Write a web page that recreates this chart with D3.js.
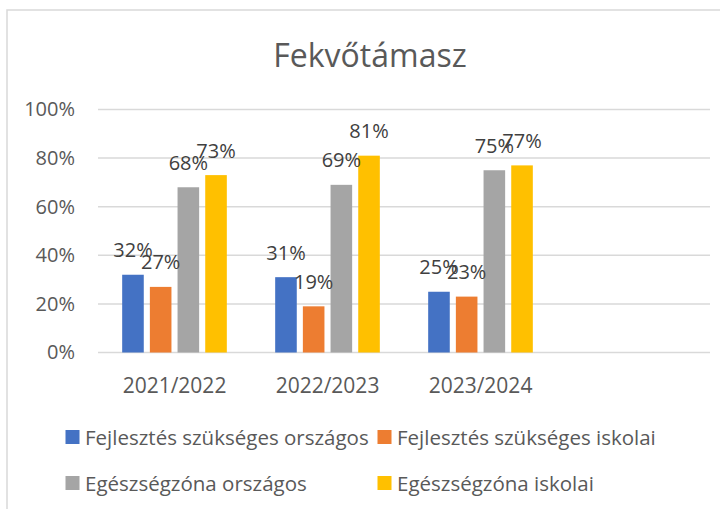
<!DOCTYPE html>
<html><head><meta charset="utf-8">
<script src="https://cdn.jsdelivr.net/npm/d3@7/dist/d3.min.js"></script>
<style>body{margin:0;background:#fff}svg{display:block;font-family:"Open Sans",sans-serif}</style>
</head><body><div id="chart"></div>
<script>
const title = "Fekvőtámasz";
const categories = ["2021/2022", "2022/2023", "2023/2024", ""];
const seriesNames = ["Fejlesztés szükséges országos", "Fejlesztés szükséges iskolai", "Egészségzóna országos", "Egészségzóna iskolai"];
const seriesColors = ["#4472C4", "#ED7D31", "#A5A5A5", "#FFC000"];
const fejlOrszagos = [32, 31, 25];
const fejlIskolai = [27, 19, 23];
const egOrszagos = [68, 69, 75];
const egIskolai = [73, 81, 77];
const yTicks = [0, 20, 40, 60, 80, 100];

const seriesValues = [fejlOrszagos, fejlIskolai, egOrszagos, egIskolai];
const W = 720, H = 509;
const svg = d3.select("#chart").append("svg").attr("width", W).attr("height", H);

// outer chart border
svg.append("rect").attr("x", 7).attr("y", 10).attr("width", 740).attr("height", 540)
  .attr("fill", "none").attr("stroke", "#d9d9d9").attr("stroke-width", 1.5);

svg.append("text").attr("x", 370).attr("y", 67).attr("text-anchor", "middle")
  .attr("font-size", 32).attr("fill", "#595959").text(title);

const plot = {left: 98, right: 710, top: 109.5, bottom: 352.5};
const x0 = d3.scaleBand().domain(categories.map((c, i) => i)).range([plot.left, plot.right])
  .paddingInner(0.316).paddingOuter(0.158);
const x1 = d3.scaleBand().domain(seriesNames.map((s, i) => i)).range([0, x0.bandwidth()])
  .paddingInner(0.22).paddingOuter(0);
const y = d3.scaleLinear().domain([0, 100]).range([plot.bottom, plot.top]);

// gridlines
svg.append("g").selectAll("line").data(yTicks).join("line")
  .attr("x1", plot.left).attr("x2", plot.right)
  .attr("y1", d => y(d)).attr("y2", d => y(d))
  .attr("stroke", "#d9d9d9").attr("stroke-width", 1.5);

// y axis labels
const yAxis = d3.axisLeft(y).tickValues(yTicks).tickFormat(d => d + "%").tickSize(0).tickPadding(0);
const gy = svg.append("g").attr("transform", `translate(75,0)`).call(yAxis);
gy.select(".domain").remove();
gy.selectAll("text").attr("font-size", 20).attr("fill", "#595959").attr("font-family", "Open Sans");

// x axis labels
const xAxis = d3.axisBottom(x0).tickFormat(i => categories[i]).tickSize(0).tickPadding(0);
const gx = svg.append("g").attr("transform", `translate(0,${plot.bottom})`).call(xAxis);
gx.select(".domain").remove();
gx.selectAll("text").attr("font-size", 21).attr("fill", "#595959").attr("font-family", "Open Sans")
  .attr("dy", null).attr("y", 40);

// bars
const rows = [];
categories.forEach((c, ci) => {
  seriesValues.forEach((vals, si) => {
    if (vals[ci] !== undefined) rows.push({ci, si, v: vals[ci]});
  });
});
const g = svg.append("g");
g.selectAll("rect").data(rows).join("rect")
  .attr("x", d => x0(d.ci) + x1(d.si))
  .attr("y", d => y(d.v))
  .attr("width", x1.bandwidth())
  .attr("height", d => y(0) - y(d.v))
  .attr("fill", d => seriesColors[d.si]);
g.selectAll("text").data(rows).join("text")
  .attr("x", d => x0(d.ci) + x1(d.si) + x1.bandwidth() / 2)
  .attr("y", d => y(d.v) - 17.5)
  .attr("text-anchor", "middle").attr("font-size", 20).attr("fill", "#404040")
  .text(d => d.v + "%");

// legend
const legendPos = [[65.5, 437], [377.5, 437], [65.5, 483], [377.5, 483]];
const lg = svg.append("g").selectAll("g").data(seriesNames).join("g")
  .attr("transform", (d, i) => `translate(${legendPos[i][0]},${legendPos[i][1]})`);
lg.append("rect").attr("x", 0).attr("y", -7).attr("width", 14).attr("height", 14)
  .attr("fill", (d, i) => seriesColors[i]);
lg.append("text").attr("x", 19.5).attr("y", 0).attr("dominant-baseline", "central")
  .attr("font-size", 20.5).attr("fill", "#595959").text(d => d);
</script></body></html>
